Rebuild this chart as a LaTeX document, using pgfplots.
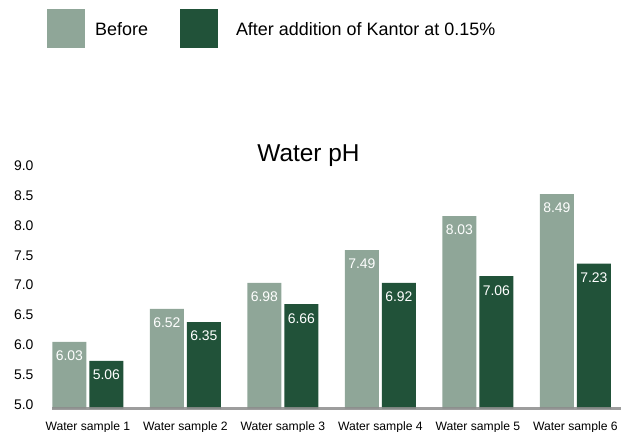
\documentclass[border=0pt]{standalone}
\usepackage{fontspec}
\setmainfont{Liberation Sans}
\usepackage{pgfplots}
\usepackage{pgfplotstable}
\pgfplotsset{compat=1.18}
\definecolor{lightc}{HTML}{8FA698}
\definecolor{darkc}{HTML}{215239}
\definecolor{basec}{HTML}{8C8C8C}

\pgfplotstableread{
x y label
0 6.05 6.03
1 6.60 6.52
2 7.04 6.98
3 7.59 7.49
4 8.16 8.03
5 8.53 8.49
}\before
\pgfplotstableread{
x y label
0 5.73 5.06
1 6.38 6.35
2 6.68 6.66
3 7.04 6.92
4 7.15 7.06
5 7.36 7.23
}\after

\begin{document}
\begin{tikzpicture}
\begin{axis}[
  name=ax,
  scale only axis,
  width=569bp, height=242.5bp,
  xmin=-0.368, xmax=5.468,
  ymin=4.93, ymax=9.0,
  ybar, bar width=34bp,
  axis lines*=left,
  y axis line style={draw=none},
  x axis line style={draw=basec, line width=3bp, opacity=0.85},
  axis on top,
  major tick length=0pt,
  xtick={0,1,2,3,4,5},
  xticklabels={Water sample 1,Water sample 2,Water sample 3,Water sample 4,Water sample 5,Water sample 6},
  xticklabel style={font=\fontsize{12.2}{14}\selectfont, yshift=-10bp},
  ytick={5,5.5,...,9},
  yticklabel style={font=\fontsize{14}{16}\selectfont, xshift=-15bp,
    /pgf/number format/fixed, /pgf/number format/fixed zerofill, /pgf/number format/precision=1},
  /pgf/number format/assume math mode=true,
  title={Water pH},
  title style={at={(0.4508,1)}, anchor=base, yshift=-1bp, font=\fontsize{24.5}{27}\selectfont},
  point meta=explicit symbolic,
  nodes near coords,
  nodes near coords style={anchor=center, yshift=-14bp, text=white, font=\fontsize{14}{16}\selectfont},
  legend columns=2,
  legend style={at={(-0.00879,1.6474)}, anchor=north west, draw=none, fill=none, inner sep=0pt,
    font=\fontsize{18}{20}\selectfont,
    nodes={inner sep=0pt},
    /tikz/column 1/.style={column sep=10bp},
    /tikz/column 2/.style={column sep=32bp},
    /tikz/column 3/.style={column sep=18bp}},
]
\addplot[fill=lightc, draw=none, bar shift=-18.5bp,
  legend image code/.code={\fill[lightc] (0bp,-18bp) rectangle (38bp,21bp);}]
  table[x=x, y=y, meta=label] {\before};
\addlegendentry{Before}
\addplot[fill=darkc, draw=none, bar shift=18.5bp,
  legend image code/.code={\fill[darkc] (0bp,-18bp) rectangle (38bp,21bp);}]
  table[x=x, y=y, meta=label] {\after};
\addlegendentry{After addition of Kantor at 0.15\%}
\end{axis}
\pgfresetboundingbox
\path[use as bounding box] ([xshift=-52bp,yshift=-23.5bp]ax.south west) rectangle ([xshift=576bp,yshift=408.5bp]ax.south west);
\end{tikzpicture}
\end{document}
